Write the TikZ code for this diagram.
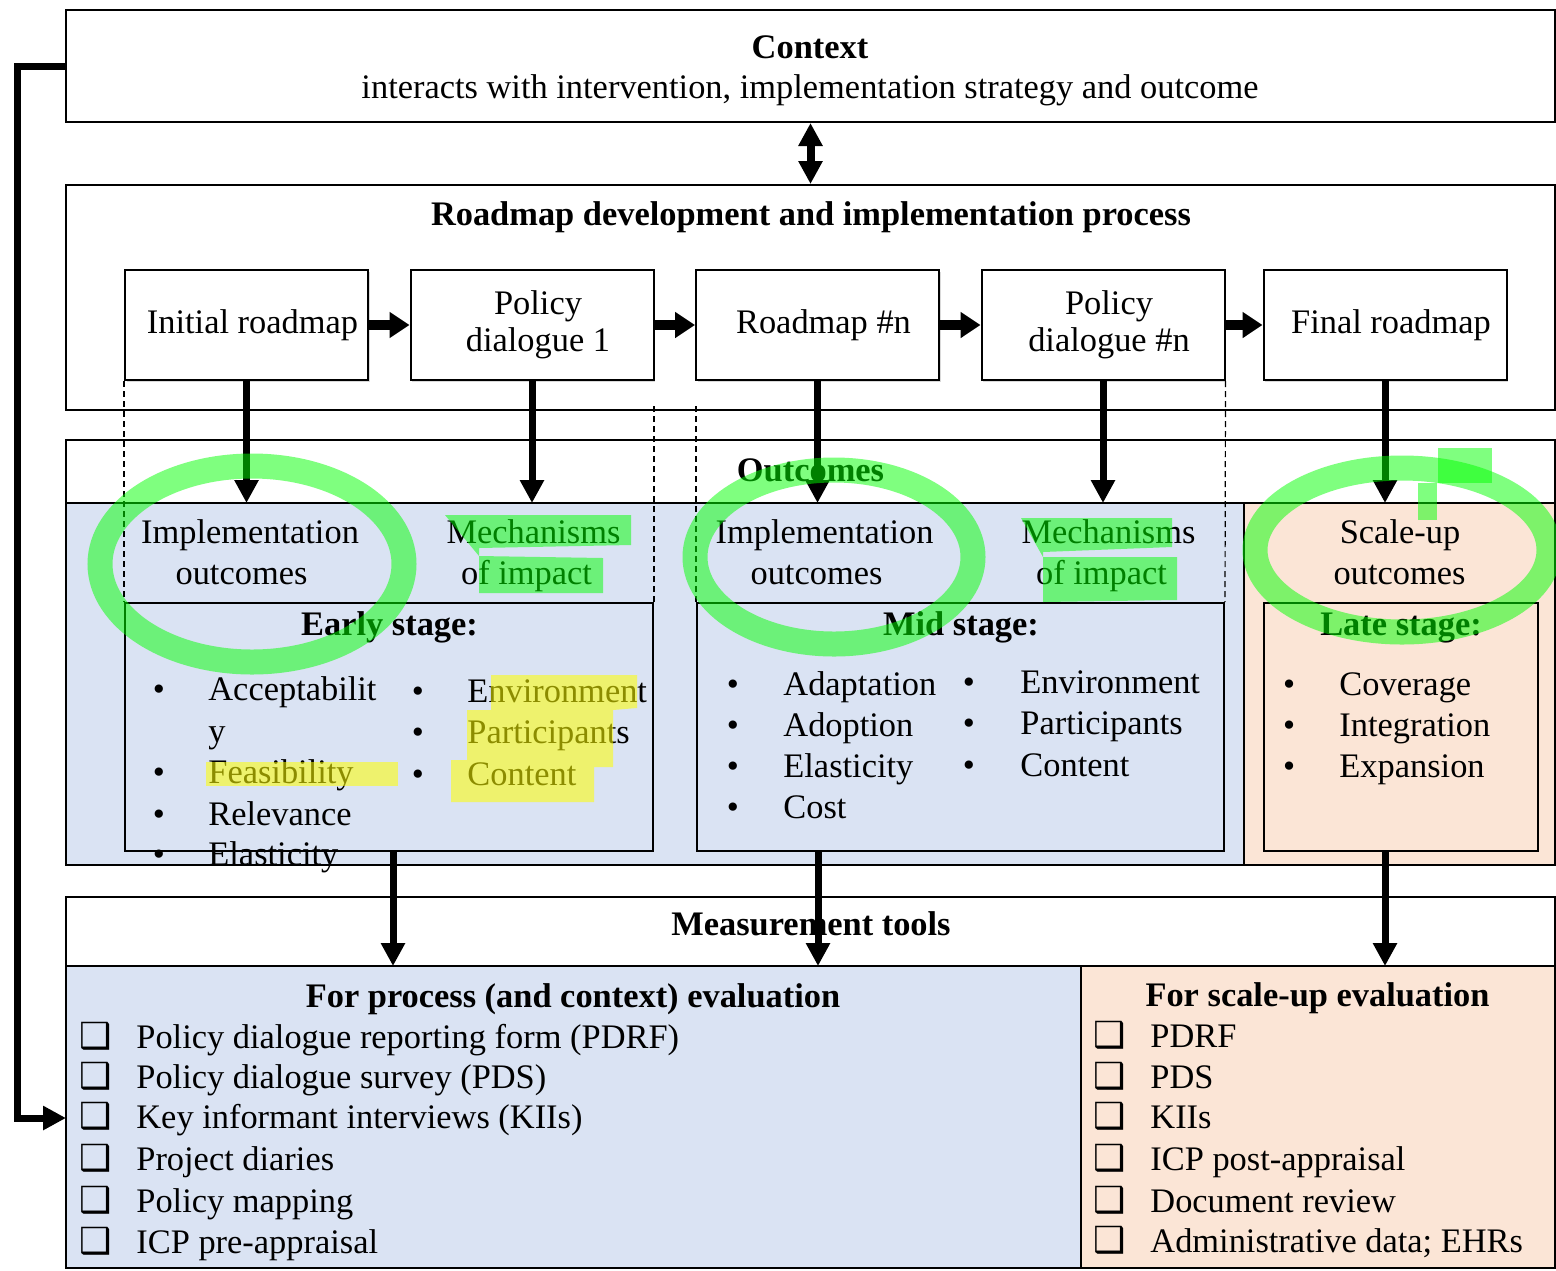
\documentclass[tikz,border=0pt]{standalone}
\usepackage{fontspec}
\setmainfont{Liberation Serif}
\newfontfamily\dejavu{DejaVu Sans}
\usetikzlibrary{arrows.meta,shadows,calc}
\definecolor{paleblue}{HTML}{DAE3F3}
\definecolor{palepeach}{HTML}{FBE5D6}
\definecolor{hlgreen}{RGB}{0,255,0}
\definecolor{hlyellow}{RGB}{255,255,0}
\newcommand\fsz{\fontsize{17.2pt}{20.5pt}\selectfont}
\newcommand\sh{\hspace*{6pt}}
\begin{document}
\begin{tikzpicture}[x=0.5pt,y=-0.5pt,
  frame/.style={draw, line width=1pt, rectangle, inner sep=0pt, minimum width=744.5pt},
  procbox/.style={draw, line width=1pt, fill=white, minimum width=121.5pt, minimum height=55pt, inner sep=0pt, align=center, font=\fontsize{17.2pt}{18.5pt}\selectfont, drop shadow={shadow xshift=0.8pt, shadow yshift=-0.8pt, opacity=0.3}},
  stagebox/.style={draw, line width=1pt, inner sep=0pt, minimum height=124pt},
  txt/.style={inner sep=0pt, anchor=base, font=\fsz},
  ltxt/.style={inner sep=0pt, anchor=base west, font=\fsz},
  btxt/.style={inner sep=0pt, anchor=base, font=\fsz\bfseries},
  chk/.style={inner sep=0pt, anchor=base, font=\dejavu\fontsize{18pt}{18pt}\selectfont},
  arr/.style={line width=3.5pt, -{Triangle[length=11.5pt,width=11.5pt]}},
  darr/.style={line width=4pt, {Triangle[length=11.5pt,width=11.5pt]}-{Triangle[length=11.5pt,width=11.5pt]}},
  harr/.style={line width=5pt, -{Triangle[length=10pt,width=12.5pt]}},
  dline/.style={line width=0.6pt, dash pattern=on 3pt off 2pt},
  gmark/.style={draw=hlgreen, draw opacity=0.5, line width=12.5pt},
  gfill/.style={fill=hlgreen, fill opacity=0.5},
  yfill/.style={fill=hlyellow, fill opacity=0.55}
]
\useasboundingbox (0,0) rectangle (1556,1270);

% ---------- region fills ----------
\fill[paleblue] (66,503) rectangle (1244,865);
\fill[palepeach] (1244,503) rectangle (1555,865);
\fill[paleblue] (66,966) rectangle (1081,1268);
\fill[palepeach] (1081,966) rectangle (1555,1268);
\draw[line width=1pt] (66,503) -- (1555,503);
\draw[line width=0.6pt] (1244,503) -- (1244,865);
\draw[line width=1pt] (66,966) -- (1555,966);
\draw[line width=1pt] (1081,966) -- (1081,1268);

% ---------- frames ----------
\node[frame, minimum height=56pt] (ctx) at (810.5,66) {};
\node[frame, minimum height=112.5pt] (rdm) at (810.5,297.5) {};
\node[frame, minimum height=212.5pt] (outc) at (810.5,652.5) {};
\node[frame, minimum height=185.5pt] (meas) at (810.5,1082.5) {};

% ---------- process boxes ----------
\node[procbox] (p1) at (246.5,325) {\sh Initial roadmap};
\node[procbox] (p2) at (532,325) {\sh Policy\\\sh dialogue 1};
\node[procbox] (p3) at (817.5,325) {\sh Roadmap \#n};
\node[procbox] (p4) at (1103,325) {\sh Policy\\\sh dialogue \#n};
\node[procbox] (p5) at (1385,325) {\sh Final roadmap};

% ---------- stage boxes ----------
\node[stagebox, minimum width=264pt] (early) at (389,727) {};
\node[stagebox, minimum width=263.5pt] (mid) at (960.5,727) {};
\node[stagebox, minimum width=137pt] (late) at (1401,727) {};

% ---------- dashed guides ----------
\draw[dline] (p1.south west) -- (early.north west);
\draw[dline] (p4.south east) -- (mid.north east);
\draw[dline] (early.north east) -- ++(0,-198);
\draw[dline] (mid.north west) -- ++(0,-198);

% ---------- titles ----------
\node[btxt] (ctxT) at (810,58) {Context};
\node[txt] (ctxS) at (810,98) {interacts with intervention, implementation strategy and outcome};
\node[btxt] (rdmT) at (811,225) {Roadmap development and implementation process};
\node[btxt] (outT) at (810.5,481) {Outcomes};
\node[btxt] (measT) at (811,935) {Measurement tools};

% ---------- outcome headers ----------
\node[txt] (eImp1) at (250,543) {Implementation};
\node[txt] (eImp2) at (241.5,584) {outcomes};
\node[txt] (eMech1) at (533.5,543) {Mechanisms};
\node[txt] (eMech2) at (526.5,584) {of impact};
\node[txt] (mImp1) at (824.5,543) {Implementation};
\node[txt] (mImp2) at (816.5,584) {outcomes};
\node[txt] (mMech1) at (1108.5,543) {Mechanisms};
\node[txt] (mMech2) at (1101.5,584) {of impact};
\node[txt] (sUp1) at (1400,543) {Scale-up};
\node[txt] (sUp2) at (1399.5,584) {outcomes};

\node[btxt] (eT) at (389.5,635) {Early stage:};
\node[btxt] (mT) at (961,635) {Mid stage:};
\node[btxt] (lT) at (1401,635) {Late stage:};

% ---------- early lists ----------
\node[txt] (eb1) at (159,700) {•};
\node[ltxt] (el1) at (208,700) {Acceptabilit};
\node[ltxt] (el1b) at (208,742) {y};
\node[txt] (eb2) at (159,783) {•};
\node[ltxt] (el2) at (208,783) {Feasibility};
\node[txt] (eb3) at (159,825) {•};
\node[ltxt] (el3) at (208,825) {Relevance};
\node[txt] (eb4) at (159,865) {•};
\node[ltxt] (el4) at (208,865) {Elasticity};
\node[txt] (er1b) at (418,702) {•};
\node[ltxt] (er1) at (467,702) {Environment};
\node[txt] (er2b) at (418,743) {•};
\node[ltxt] (er2) at (467,743) {Participants};
\node[txt] (er3b) at (418,785) {•};
\node[ltxt] (er3) at (467,785) {Content};

% ---------- mid lists ----------
\node[txt] (mb1) at (733,695) {•};
\node[ltxt] (ml1) at (783,695) {Adaptation};
\node[txt] (mb2) at (733,736) {•};
\node[ltxt] (ml2) at (783,736) {Adoption};
\node[txt] (mb3) at (733,777) {•};
\node[ltxt] (ml3) at (783,777) {Elasticity};
\node[txt] (mb4) at (733,818) {•};
\node[ltxt] (ml4) at (783,818) {Cost};
\node[txt] (mr1b) at (969,693) {•};
\node[ltxt] (mr1) at (1020,693) {Environment};
\node[txt] (mr2b) at (969,734) {•};
\node[ltxt] (mr2) at (1020,734) {Participants};
\node[txt] (mr3b) at (969,776) {•};
\node[ltxt] (mr3) at (1020,776) {Content};

% ---------- late list ----------
\node[txt] (lb1) at (1289,695) {•};
\node[ltxt] (ll1) at (1339,695) {Coverage};
\node[txt] (lb2) at (1289,736) {•};
\node[ltxt] (ll2) at (1339,736) {Integration};
\node[txt] (lb3) at (1289,777) {•};
\node[ltxt] (ll3) at (1339,777) {Expansion};

% ---------- measurement lists ----------
\node[btxt] (procT) at (573,1007) {For process (and context) evaluation};
\node[btxt] (scT) at (1317.5,1006) {For scale-up evaluation};
\foreach \yy/\tt [count=\i] in {1048/{Policy dialogue reporting form (PDRF)},1088/{Policy dialogue survey (PDS)},1128/{Key informant interviews (KIIs)},1170/{Project diaries},1212/{Policy mapping},1253/{ICP pre-appraisal}}{
  \node[chk] (pc\i) at (96,\yy) {❑};
  \node[ltxt] (pt\i) at (136,\yy) {\tt};
}
\foreach \yy/\tt [count=\i] in {1047/{PDRF},1088/{PDS},1128/{KIIs},1170/{ICP post-appraisal},1212/{Document review},1252/{Administrative data; EHRs}}{
  \node[chk] (sc\i) at (1110,\yy) {❑};
  \node[ltxt] (st\i) at (1150,\yy) {\tt};
}

% ---------- connectors ----------
\draw[darr] (ctx.south) -- (rdm.north);
\draw[harr] (p1.east) -- (p2.west);
\draw[harr] (p2.east) -- (p3.west);
\draw[harr] (p3.east) -- (p4.west);
\draw[harr] (p4.east) -- (p5.west);

\coordinate (oline) at (0,503);
\draw[arr] (p1.south) -- (p1.south |- oline);
\draw[arr] (p2.south) -- (p2.south |- oline);
\draw[arr] (p3.south) -- (p3.south |- oline);
\draw[arr] (p4.south) -- (p4.south |- oline);
\draw[arr] (p5.south) -- (p5.south |- oline);

\coordinate (me) at (393,966);
\coordinate (mm) at (818,966);
\coordinate (ml) at (1385,966);
\draw[arr] (me |- early.south) -- (me);
\draw[arr] (mm |- mid.south) -- (mm);
\draw[arr] (ml |- late.south) -- (ml);

\coordinate (fb) at (66,1118);
\draw[arr] (ctx.west) -- ++(-48,0) |- (fb);

% ---------- marker annotations ----------
\draw[gmark] (252,564) ellipse [x radius=76pt, y radius=49pt];
\draw[gmark] (834,557) ellipse [x radius=69.5pt, y radius=43.5pt];
\draw[gmark] (1402,550) ellipse [x radius=73.5pt, y radius=41pt];
\fill[gfill] (1438,448) rectangle (1492,483);
\fill[gfill] (1418,483) rectangle (1437,520);
\fill[gfill] (445,515) -- (631,515) -- (631,545) -- (479,548) -- (479,593) -- (603,593) -- (603,558) -- (479,556) -- cycle;
\fill[gfill] (1021,518) -- (1172,518) -- (1172,547) -- (1043,552) -- (1043,602) -- (1177,600) -- (1177,557) -- (1043,557) -- cycle;
\fill[yfill] (206,762) rectangle (398,786);
\fill[yfill] (491,675) -- (637,675) -- (637,708) -- (613,710) -- (613,767) -- (594,767) -- (594,802) -- (451,802) -- (451,760) -- (467,760) -- (467,710) -- (491,710) -- cycle;
\end{tikzpicture}
\end{document}
